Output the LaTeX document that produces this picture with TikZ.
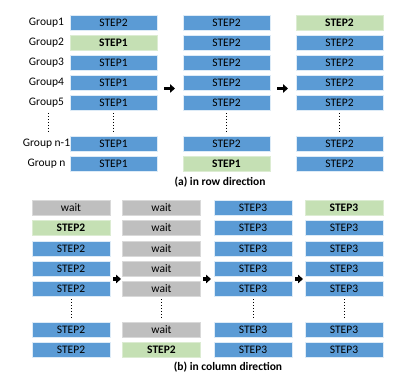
\documentclass[tikz,border=0pt]{standalone}
\usepackage{fontspec}
\setmainfont{Carlito}
\definecolor{StepBlue}{HTML}{5B9BD5}
\definecolor{StepGreen}{HTML}{C5E0B4}
\definecolor{StepGray}{HTML}{BFBFBF}
\definecolor{StepEdge}{HTML}{DDEBF7}
\usepackage{tikz}
\usetikzlibrary{arrows.meta, positioning, calc}
\tikzset{
    % Box styles for the groups
    stepbox/.style={
        rectangle,
        draw=StepEdge,
        line width=0.5pt,
        fill=StepBlue,
        inner sep=0pt,
        minimum width=87pt,
        minimum height=15pt,
        align=center,
        font=\fontsize{11.5}{13}\selectfont
    },
    stepbox small/.style={
        stepbox,
        minimum width=78pt
    },
    active/.style={
        fill=StepGreen,
        draw=StepGreen!60,
        font=\fontsize{11.5}{13}\selectfont\bfseries
    },
    waiting/.style={
        fill=StepGray,
        draw=StepGray!60
    },
    group label/.style={
        inner sep=0pt,
        minimum height=15pt,
        font=\fontsize{11.5}{13}\selectfont
    },
    caption/.style={
        font=\fontsize{11.5}{13}\selectfont\bfseries
    },
    dots style/.style={
        dotted,
        line width=0.9pt,
        shorten <=3pt,
        shorten >=3pt
    },
    arrow style/.style={
        -{Triangle[length=5pt,width=8.5pt]},
        line width=3.5pt,
        black
    }
}
\begin{document}
\begin{tikzpicture}[x=1pt, y=-1pt]
        \useasboundingbox (0,0) rectangle (398,390);

        % (a) Group labels
        \node[group label] (g1) at (46.5, 22.5) {Group1};
        \node[group label] (g2) at (46.5, 42.5) {Group2};
        \node[group label] (g3) at (46.5, 62.5) {Group3};
        \node[group label] (g4) at (46.5, 82.5) {Group4};
        \node[group label] (g5) at (46.5, 102.5) {Group5};
        \node[group label] (g6) at (46.5, 143.5) {Group n-1};
        \node[group label] (g7) at (46.5, 163.5) {Group n};
        \draw[dots style] ($(g5.south)+(1.5,0)$) -- ($(g6.north)+(1.5,0)$);

        % (a) First column
        \node[stepbox] (a1c1) at (113.5, 22.5) {STEP2};
        \node[stepbox, active] (a2c1) at (113.5, 42.5) {STEP1};
        \node[stepbox] (a3c1) at (113.5, 62.5) {STEP1};
        \node[stepbox] (a4c1) at (113.5, 82.5) {STEP1};
        \node[stepbox] (a5c1) at (113.5, 102.5) {STEP1};
        \node[stepbox] (a6c1) at (113.5, 143.5) {STEP1};
        \node[stepbox] (a7c1) at (113.5, 163.5) {STEP1};
        \draw[dots style] (a5c1.south) -- (a6c1.north);

        % (a) Second column
        \node[stepbox] (a1c2) at (226.5, 22.5) {STEP2};
        \node[stepbox] (a2c2) at (226.5, 42.5) {STEP2};
        \node[stepbox] (a3c2) at (226.5, 62.5) {STEP2};
        \node[stepbox] (a4c2) at (226.5, 82.5) {STEP2};
        \node[stepbox] (a5c2) at (226.5, 102.5) {STEP2};
        \node[stepbox] (a6c2) at (226.5, 143.5) {STEP2};
        \node[stepbox, active] (a7c2) at (226.5, 163.5) {STEP1};
        \draw[dots style] (a5c2.south) -- (a6c2.north);

        % (a) Third column
        \node[stepbox, active] (a1c3) at (339.5, 22.5) {STEP2};
        \node[stepbox] (a2c3) at (339.5, 42.5) {STEP2};
        \node[stepbox] (a3c3) at (339.5, 62.5) {STEP2};
        \node[stepbox] (a4c3) at (339.5, 82.5) {STEP2};
        \node[stepbox] (a5c3) at (339.5, 102.5) {STEP2};
        \node[stepbox] (a6c3) at (339.5, 143.5) {STEP2};
        \node[stepbox] (a7c3) at (339.5, 163.5) {STEP2};
        \draw[dots style] (a5c3.south) -- (a6c3.north);

        % (a) Arrows between columns
        \coordinate (aarr1) at (164, 88.5);
        \coordinate (aarr2) at (277, 88.5);
        \draw[arrow style] (aarr1) -- ++(11,0);
        \draw[arrow style] (aarr2) -- ++(11,0);

        \node[caption] (capa) at (220, 182) {(a) in row direction};

        % (b) First column
        \node[stepbox small, waiting] (b1c1) at (71, 207.5) {wait};
        \node[stepbox small, active] (b2c1) at (71, 228) {STEP2};
        \node[stepbox small] (b3c1) at (71, 248.5) {STEP2};
        \node[stepbox small] (b4c1) at (71, 268.5) {STEP2};
        \node[stepbox small] (b5c1) at (71, 288.5) {STEP2};
        \node[stepbox small] (b6c1) at (71, 329.5) {STEP2};
        \node[stepbox small] (b7c1) at (71, 349.5) {STEP2};
        \draw[dots style] (b5c1.south) -- (b6c1.north);

        % (b) Second column
        \node[stepbox small, waiting] (b1c2) at (161.5, 207.5) {wait};
        \node[stepbox small, waiting] (b2c2) at (161.5, 228) {wait};
        \node[stepbox small, waiting] (b3c2) at (161.5, 248.5) {wait};
        \node[stepbox small, waiting] (b4c2) at (161.5, 268.5) {wait};
        \node[stepbox small, waiting] (b5c2) at (161.5, 288.5) {wait};
        \node[stepbox small, waiting] (b6c2) at (161.5, 329.5) {wait};
        \node[stepbox small, active] (b7c2) at (161.5, 349.5) {STEP2};
        \draw[dots style] (b5c2.south) -- (b6c2.north);

        % (b) Third column
        \node[stepbox small] (b1c3) at (253, 207.5) {STEP3};
        \node[stepbox small] (b2c3) at (253, 228) {STEP3};
        \node[stepbox small] (b3c3) at (253, 248.5) {STEP3};
        \node[stepbox small] (b4c3) at (253, 268.5) {STEP3};
        \node[stepbox small] (b5c3) at (253, 288.5) {STEP3};
        \node[stepbox small] (b6c3) at (253, 329.5) {STEP3};
        \node[stepbox small] (b7c3) at (253, 349.5) {STEP3};
        \draw[dots style] (b5c3.south) -- (b6c3.north);

        % (b) Fourth column
        \node[stepbox small, active] (b1c4) at (344, 207.5) {STEP3};
        \node[stepbox small] (b2c4) at (344, 228) {STEP3};
        \node[stepbox small] (b3c4) at (344, 248.5) {STEP3};
        \node[stepbox small] (b4c4) at (344, 268.5) {STEP3};
        \node[stepbox small] (b5c4) at (344, 288.5) {STEP3};
        \node[stepbox small] (b6c4) at (344, 329.5) {STEP3};
        \node[stepbox small] (b7c4) at (344, 349.5) {STEP3};
        \draw[dots style] (b5c4.south) -- (b6c4.north);

        % (b) Arrows between columns
        \coordinate (barr1) at (113, 279);
        \coordinate (barr2) at (203, 279);
        \coordinate (barr3) at (295, 279);
        \draw[arrow style] (barr1) -- ++(8,0);
        \draw[arrow style] (barr2) -- ++(8,0);
        \draw[arrow style] (barr3) -- ++(8,0);

        \node[caption] (capb) at (228, 367) {(b) in column direction};
    \end{tikzpicture}
\end{document}
